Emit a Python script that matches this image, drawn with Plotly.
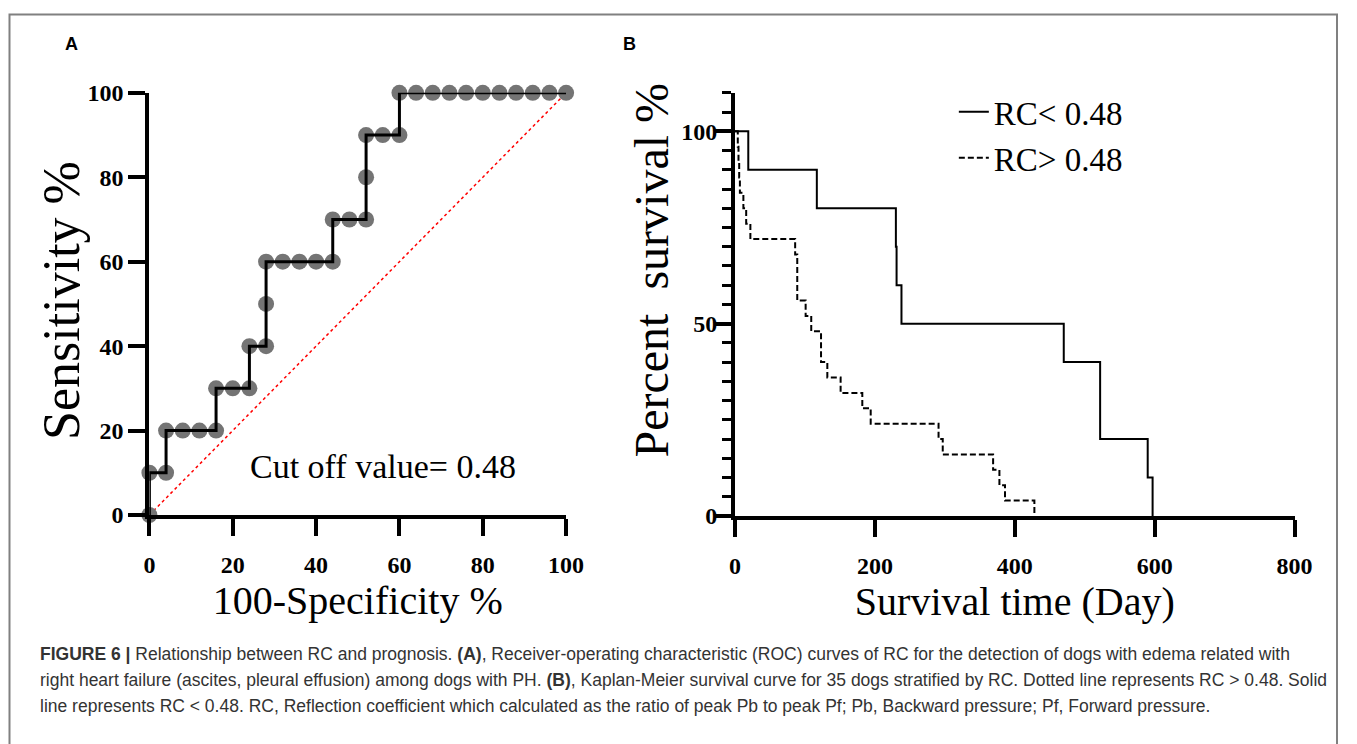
import plotly.graph_objects as go

W, H = 1357, 744

# ---------------- Data ----------------
# Panel A: ROC curve (100-Specificity %, Sensitivity %)
roc_fpr = [0, 0, 4, 4, 8, 12, 16, 16, 20, 24, 24, 28, 28, 28, 32, 36, 40, 44, 44, 48, 52,
           52, 52, 56, 60, 60, 64, 68, 72, 76, 80, 84, 88, 92, 96, 100]
roc_sens = [0, 10, 10, 20, 20, 20, 20, 30, 30, 30, 40, 40, 50, 60, 60, 60, 60, 60, 70, 70, 70,
            80, 90, 90, 90, 100, 100, 100, 100, 100, 100, 100, 100, 100, 100, 100]
ref_x = [0, 100]
ref_y = [0, 100]
roc_xticks = [0, 20, 40, 60, 80, 100]
roc_yticks = [0, 20, 40, 60, 80, 100]
cutoff_label = "Cut off value= 0.48"

# Panel B: Kaplan-Meier survival (days, percent survival)
low_name = "RC< 0.48"
low_t = [0, 19, 117, 230, 231, 238, 470, 522, 590, 597]
low_s = [100, 90, 80, 70, 60, 50, 40, 20, 10, 0]
high_name = "RC> 0.48"
high_t = [0, 4, 5, 6, 7, 12, 16, 22, 86, 89, 101, 109, 123, 132, 151, 182, 194, 291, 297,
          369, 378, 386, 428]
high_s = [100, 96, 92, 88, 84, 80, 76, 72, 68, 56, 52, 48, 40, 36, 32, 28, 24, 20, 16,
          12, 8, 4, 0]
km_xticks = [0, 200, 400, 600, 800]
km_yticks = [0, 50, 100]

caption_lines = [
    "<b>FIGURE 6 |</b> Relationship between RC and prognosis. <b>(A)</b>, Receiver-operating "
    "characteristic (ROC) curves of RC for the detection of dogs with edema related with",
    "right heart failure (ascites, pleural effusion) among dogs with PH. <b>(B)</b>, Kaplan-Meier "
    "survival curve for 35 dogs stratified by RC. Dotted line represents RC &gt; 0.48. Solid",
    "line represents RC &lt; 0.48. RC, Reflection coefficient which calculated as the ratio of "
    "peak Pb to peak Pf; Pb, Backward pressure; Pf, Forward pressure.",
]

# ---------------- Styling ----------------
SERIF = "Liberation Serif, Times New Roman, serif"
SANS = "Liberation Sans, Arial, Helvetica, sans-serif"
tickfont = dict(family=SERIF, size=24, color="black", weight="bold")
titlefont = dict(family=SERIF, size=40, color="black")

# mapping from target picture pixels to paper fractions (calibrated to the renderer)
X0, SX, Y0, SY = 4.5, 0.983, 12.0, 0.967


def px_x(p):
    return ((p - X0) / SX) / W


def px_y(p):
    return 1 - ((p - Y0) / SY) / H


fig = go.Figure()

# ROC
fig.add_trace(go.Scatter(x=ref_x, y=ref_y, mode="lines", xaxis="x", yaxis="y",
                         line=dict(color="red", width=1.5, dash="dot"),
                         showlegend=False, hoverinfo="skip"))
fig.add_trace(go.Scatter(x=roc_fpr, y=roc_sens, mode="markers", xaxis="x", yaxis="y",
                         marker=dict(size=16, color="#747474", line=dict(width=0)),
                         cliponaxis=False, showlegend=False))
fig.add_trace(go.Scatter(x=roc_fpr, y=roc_sens, mode="lines", xaxis="x", yaxis="y",
                         line=dict(color="black", width=3),
                         cliponaxis=False, showlegend=False))

# Kaplan-Meier
fig.add_trace(go.Scatter(x=low_t, y=low_s, mode="lines", name=low_name,
                         xaxis="x2", yaxis="y2", line_shape="hv",
                         line=dict(color="black", width=2), cliponaxis=False))
fig.add_trace(go.Scatter(x=high_t, y=high_s, mode="lines", name=high_name,
                         xaxis="x2", yaxis="y2", line_shape="hv",
                         line=dict(color="black", width=2, dash="6px,3px"),
                         cliponaxis=False))

axis_common = dict(showline=True, linewidth=4, linecolor="black", ticks="outside",
                   ticklen=17, tickwidth=4, tickcolor="black", showgrid=False,
                   zeroline=False, tickfont=tickfont, fixedrange=True)

fig.update_layout(
    width=W, height=H, autosize=False,
    margin=dict(l=0, r=0, t=0, b=0),
    paper_bgcolor="white", plot_bgcolor="white",
    xaxis=dict(domain=[px_x(148), px_x(565)], range=[0, 100], anchor="y",
               tickmode="array", tickvals=roc_xticks, ticklabelstandoff=8,
               title=dict(text="100-Specificity %", font=titlefont, standoff=0),
               **axis_common),
    yaxis=dict(domain=[px_y(515), px_y(92)], range=[0, 100], anchor="x",
               tickmode="array", tickvals=roc_yticks, ticklabelstandoff=0,
               **axis_common),
    xaxis2=dict(domain=[px_x(734), px_x(1294)], range=[0, 800], anchor="y2",
                tickmode="array", tickvals=km_xticks, ticklabelstandoff=8,
                title=dict(text="Survival time (Day)", font=titlefont, standoff=0),
                **axis_common),
    yaxis2=dict(domain=[px_y(516), px_y(92)], range=[0, 110], anchor="x2",
                tickmode="array", tickvals=km_yticks, ticklabelstandoff=-8,
                minor=dict(tickmode="linear", tick0=0, dtick=5, ticklen=9, tickwidth=3,
                           tickcolor="black", ticks="outside", showgrid=False),
                **axis_common),
    legend=dict(x=px_x(953), y=px_y(83), xanchor="left", yanchor="top",
                font=dict(family=SERIF, size=33, color="black"),
                bgcolor="rgba(0,0,0,0)", tracegroupgap=0, itemwidth=30),
    showlegend=True,
)

annotations = [
    dict(text=cutoff_label, x=56, y=11.5, xref="x", yref="y", showarrow=False,
         font=dict(family=SERIF, size=34, color="black"), xanchor="center", yanchor="middle"),
    dict(text="Sensitivity %", x=px_x(60), y=px_y(300), xref="paper", yref="paper",
         showarrow=False, textangle=-90, xanchor="center", yanchor="middle",
         font=dict(family=SERIF, size=52, color="black")),
    dict(text="Percent  survival %", x=px_x(650), y=px_y(270), xref="paper", yref="paper",
         showarrow=False, textangle=-90, xanchor="center", yanchor="middle",
         font=dict(family=SERIF, size=48, color="black")),
    dict(text="<b>A</b>", x=px_x(70), y=px_y(43), xref="paper", yref="paper", showarrow=False,
         font=dict(family=SANS, size=18, color="black"), xanchor="center", yanchor="middle"),
    dict(text="<b>B</b>", x=px_x(628), y=px_y(43), xref="paper", yref="paper", showarrow=False,
         font=dict(family=SANS, size=18, color="black"), xanchor="center", yanchor="middle"),
]
for i, line in enumerate(caption_lines):
    annotations.append(dict(text=line, x=px_x(37), y=px_y(654 + 26 * i), xref="paper",
                            yref="paper", showarrow=False, xanchor="left", yanchor="middle",
                            align="left", font=dict(family=SANS, size=17.5, color="#333333")))
fig.update_layout(annotations=annotations)

# Outer figure frame
fig.add_shape(type="rect", xref="paper", yref="paper",
              x0=px_x(8), x1=min(px_x(1355), 0.9985), y0=-0.05, y1=min(px_y(6), 0.998),
              line=dict(color="#808080", width=2), fillcolor="rgba(0,0,0,0)", layer="below")

fig.write_html("out.html")
